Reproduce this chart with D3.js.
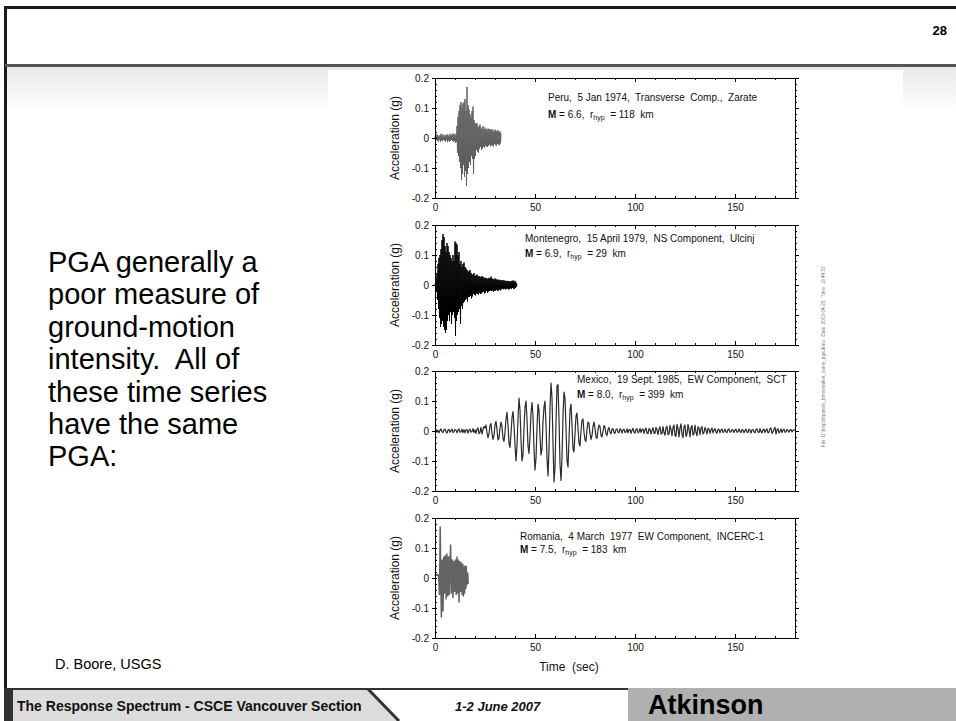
<!DOCTYPE html>
<html lang="en">
<head>
<meta charset="UTF-8" />
<title>PGA - four time series</title>
<script src="https://cdn.jsdelivr.net/npm/d3@7"></script>
<style>
  body { margin: 0; background: #fff; }
  svg { display: block; font-family: Arial, "Liberation Sans", sans-serif; }
  text { white-space: pre; }
</style>
</head>
<body>
<svg id="vis" width="956" height="721"></svg>
<script>
// ---- data ----
const quakeNames = [
  "Peru,  5 Jan 1974,  Transverse  Comp.,  Zarate",
  "Montenegro,  15 April 1979,  NS Component,  Ulcinj",
  "Mexico,  19 Sept. 1985,  EW Component,  SCT",
  "Romania,  4 March  1977  EW Component,  INCERC-1"
];
const magnitudes = ["6.6", "6.9", "8.0", "7.5"];
const hypoDistKm = ["118", "29", "399", "183"];
// sample step (sec) of each trace below
const sampleSteps = [0.25, 0.25, 0.5, 0.2];

// accelerations in milli-g, one value per sample step
const peruAcc = [
  5,-8,10,-6,12,-10,8,-12, 6,-5,10,-12,14,-8,6,-10, 12,-6,4,-8,10,-12,8,-6,
  12,-14,10,-8,6,-12,14,-10, 8,-6,12,-10,15,-12,8,-10, 14,-16,10,-12,
  40,-50,70,-60,90,-80,110,-100, 120,-140,100,-120,115,-90,120,-130,
  130,-110,90,-160,170,-120,110,-100, 95,-80,80,-90,70,-60,90,-70, 105,-120,60,-70,
  50,-60,45,-40,50,-45,35,-50, 40,-35,45,-30,35,-40,30,-35, 40,-30,28,-32,35,-25,30,-28,
  25,-30,32,-25,28,-22,30,-28, 26,-24,30,-26,22,-28,25,-20, 28,-24,22,-26,24,-20,26,-22,
  20,-24,22,-18,15
];
const montenegroAcc = [
  5,-10,15,-20, 40,-50,70,-80, 90,-110,100,-140, 120,-130,150,-120, 170,-140,160,-150,
  130,-160,110,-150, 140,-120,130,-100, 110,-120,100,-90, 90,-130,80,-100, 100,-90,80,-110,
  145,-170,140,-120, 135,-100,100,-90, 110,-80,70,-130, 80,-70,60,-80, 70,-60,75,-55,
  60,-50,55,-45, 50,-55,45,-40, 45,-40,50,-35, 40,-45,35,-38, 35,-30,40,-32,
  30,-35,32,-28,35,-30,28,-32, 30,-26,28,-30,25,-28,30,-24, 26,-22,25,-28,22,-25,24,-20,
  22,-25,20,-22,24,-20,22,-18, 28,-20,22,-18,20,-22,18,-20, 22,-18,20,-16,18,-20,16,-18,
  18,-15,16,-18,15,-14,16,-12, 15,-14,16,-12,14,-15,12,-13, 14,-12,13,-15,12,-14,13,-11,
  12,-13,14,-10,15,-12,11,-13, 14,-10,8,-6,5
];
const mexicoAcc = [
  0,5,-4,3,-6,2,7,-3,-5,4,        6,-2,-7,3,5,-4,2,6,-5,-2,
  5,3,-6,2,7,-4,-3,6,-5,4,        -6,3,5,-7,2,6,-4,-2,8,-5,
  3,-8,6,10,-9,-4,12,-10,5,15,    10,20,-5,-22,-10,18,25,-8,-28,-15,
  20,32,5,-30,-25,10,30,15,-25,-35, -5,40,62,20,-40,-55,-10,45,65,20,
  -45,-100,-50,40,110,70,-30,-100,-80,10, 80,100,40,-50,-75,-20,60,95,50,-60,
  -130,-90,10,90,70,-20,-80,-60,30,80, 100,20,-90,-150,-60,80,160,110,-40,-170,
  -120,30,150,155,40,-110,-165,-90,50,130, 110,10,-100,-120,-30,70,90,20,-60,-70,
  -10,50,60,10,-40,-50,0,35,40,-5, -30,-35,5,30,25,-10,-28,-15,15,30,
  10,-20,-25,5,20,15,-15,-20,0,18, 12,-10,-15,5,12,-3,-10,6,8,-6,
  -8,5,7,-4,-6,8,3,-7,4,6,        -5,-3,7,-6,4,5,-8,2,9,-4,
  -7,5,8,-6,-3,9,-5,4,7,-8,       3,10,-6,-9,8,5,-10,2,11,-7,
  -8,12,4,-12,6,14,-10,-8,15,-5,  -14,10,16,-12,-10,18,5,-16,12,20,
  -15,-18,22,8,-20,10,24,-12,-22,15, 20,-18,-10,22,6,-20,12,18,-14,-8,
  20,-5,-16,14,10,-12,8,15,-10,-5, 12,3,-10,9,6,-8,4,10,-6,2,
  8,-4,-7,6,5,-6,3,7,-5,-2,       6,-3,-5,4,7,-4,-3,5,2,-5,
  4,6,-4,-3,7,-2,-5,5,3,-6,       2,6,-4,-5,6,3,-7,4,5,-3,
  -6,5,7,-4,-5,8,-2,-6,4,6,       -5,3,7,-6,-4,8,10,-8,-3,6,
  12,-10,4,8,-6,-2,7,-5,3,6,      -4,-3,5,2,-4,3,5,-3,2,4,3
];
const romaniaAcc = [
  10,8,12,9,11, 10,12,8,10,5, -20,-55,30,170,60, -60,-130,-40,60,20,
  -110,-30,70,40,-50, 50,75,-20,-70,30, 80,-10,-60,40,70, -30,-55,20,75,110,
  30,-50,-20,60,-40, -65,45,55,-20,-45, 30,60,-10,-55,35, 70,-30,-50,60,20,
  -80,-20,55,35,-45, 40,50,-30,-55,30, 45,-60,-20,35,-50, 40,25,-35,38,-25,
  20,-10,15,-20
];
const traces = [peruAcc, montenegroAcc, mexicoAcc, romaniaAcc];
const traceColors = ["#5f5f5f", "#000000", "#2a2a2a", "#636363"];
const traceWidths = [1, 1, 1.2, 1.5];

const xTickValues = [0, 50, 100, 150];
const yTickValues = [-0.2, -0.1, 0, 0.1, 0.2];
const yTickLabels = ["-0.2", "-0.1", "0", "0.1", "0.2"];

const noteLines = [
  "PGA generally a", "poor measure of", "ground-motion",
  "intensity.  All of", "these time series", "have the same", "PGA:"
];

// ---- slide frame ----
const svg = d3.select("#vis");
const defs = svg.append("defs");
const band = defs.append("linearGradient").attr("id", "band")
  .attr("x1", 0).attr("y1", 0).attr("x2", 0).attr("y2", 1);
band.append("stop").attr("offset", "0%").attr("stop-color", "#e9e9e9");
band.append("stop").attr("offset", "100%").attr("stop-color", "#ffffff");

svg.append("rect").attr("width", 956).attr("height", 721).attr("fill", "#fff");
svg.append("rect").attr("x", 5).attr("y", 67).attr("width", 951).attr("height", 45).attr("fill", "url(#band)");
svg.append("rect").attr("x", 328).attr("y", 70).attr("width", 575).attr("height", 616).attr("fill", "#fff");

svg.append("rect").attr("x", 4).attr("y", 6).attr("width", 952).attr("height", 3).attr("fill", "#1a1a1a");
svg.append("rect").attr("x", 4).attr("y", 6).attr("width", 3).attr("height", 715).attr("fill", "#1a1a1a");
svg.append("rect").attr("x", 5).attr("y", 64).attr("width", 951).attr("height", 3).attr("fill", "#555");

svg.append("text").attr("x", 947).attr("y", 35).attr("text-anchor", "end")
  .attr("font-size", 13).attr("font-weight", "bold").text("28");

// left-hand note
svg.append("g").selectAll("text").data(noteLines).join("text")
  .attr("x", 48).attr("y", (d, i) => 272 + i * 32.4)
  .attr("font-size", 29).attr("fill", "#000").text(d => d);

svg.append("text").attr("x", 55).attr("y", 669).attr("font-size", 14.5).text("D. Boore, USGS");

// ---- the four panels ----
const x = d3.scaleLinear().domain([0, 180]).range([435, 795]);
const panelTops = [78, 225, 371, 518];
const plotH = 120;
const labelPos = [
  { x: 548, y1: 101, y2: 118 },
  { x: 525, y1: 242, y2: 257 },
  { x: 577, y1: 383, y2: 398 },
  { x: 520, y1: 540, y2: 553 }
];

traces.forEach((acc, p) => {
  const top = panelTops[p];
  const y = d3.scaleLinear().domain([-0.2, 0.2]).range([top + plotH, top]);
  const g = svg.append("g");
  const dt = sampleSteps[p];

  // trace
  const line = d3.line().x((d, i) => x(i * dt)).y(d => y(d / 1000));
  g.append("path").datum(acc).attr("d", line)
    .attr("fill", "none").attr("stroke", traceColors[p])
    .attr("stroke-width", traceWidths[p]).attr("stroke-linejoin", "round");

  // bottom axis: labels + inward ticks
  const minorX = d3.range(0, 181, 10);
  g.append("g").attr("transform", `translate(0,${top + plotH})`)
    .call(d3.axisBottom(x).tickValues(minorX).tickFormat("").tickSizeInner(-2).tickSizeOuter(0));
  g.append("g").attr("transform", `translate(0,${top + plotH})`)
    .call(d3.axisBottom(x).tickValues(xTickValues).tickFormat(d3.format("d"))
      .tickSizeInner(-4).tickSizeOuter(0).tickPadding(6));
  // top axis
  g.append("g").attr("transform", `translate(0,${top})`)
    .call(d3.axisTop(x).tickValues(minorX).tickFormat("").tickSizeInner(-2).tickSizeOuter(0));
  g.append("g").attr("transform", `translate(0,${top})`)
    .call(d3.axisTop(x).tickValues(xTickValues).tickFormat("").tickSizeInner(-4).tickSizeOuter(0));

  // left / right axes
  const minorY = d3.range(-10, 11).map(k => k * 0.02);
  g.append("g").attr("transform", `translate(${x(0)},0)`)
    .call(d3.axisLeft(y).tickValues(minorY).tickFormat("").tickSizeInner(-2).tickSizeOuter(0));
  g.append("g").attr("transform", `translate(${x(0)},0)`)
    .call(d3.axisLeft(y).tickValues(yTickValues).tickFormat((d, i) => yTickLabels[i])
      .tickSizeInner(3).tickSizeOuter(0).tickPadding(3));
  g.append("g").attr("transform", `translate(${x(180)},0)`)
    .call(d3.axisRight(y).tickValues(minorY).tickFormat("").tickSizeInner(2).tickSizeOuter(0));
  g.append("g").attr("transform", `translate(${x(180)},0)`)
    .call(d3.axisRight(y).tickValues(yTickValues).tickFormat("").tickSizeInner(4).tickSizeOuter(0));

  g.selectAll(".tick text").attr("font-size", 10).attr("font-family", "Arial, 'Liberation Sans', sans-serif").attr("fill", "#111");
  g.selectAll(".domain, .tick line").attr("stroke", "#000");

  g.append("text").attr("transform", `translate(399,${top + plotH / 2}) rotate(-90)`)
    .attr("text-anchor", "middle").attr("font-size", 12).attr("fill", "#111").text("Acceleration (g)");

  // event annotation
  const lp = labelPos[p];
  g.append("text").attr("x", lp.x).attr("y", lp.y1).attr("font-size", 10).attr("fill", "#111").text(quakeNames[p]);
  const t2 = g.append("text").attr("x", lp.x).attr("y", lp.y2).attr("font-size", 10).attr("fill", "#111");
  t2.append("tspan").attr("font-weight", "bold").text("M");
  t2.append("tspan").text(` = ${magnitudes[p]},  r`);
  t2.append("tspan").attr("dy", 2).attr("font-size", 7).text("hyp");
  t2.append("tspan").attr("dy", -2).text(`  = ${hypoDistKm[p]}  km`);
});

svg.append("text").attr("x", 569).attr("y", 671).attr("text-anchor", "middle")
  .attr("font-size", 12).attr("fill", "#111").text("Time  (sec)");

// tiny plot-file stamp
svg.append("text").attr("transform", "translate(825,447) rotate(-90)")
  .attr("font-size", 4.6).attr("fill", "#777")
  .text("File: D:\\bmp\\dspanels_brmemarket_same_pga.draw;  Date: 2003-04-23;  Time: 19:44:33");

// ---- footer ----
svg.append("rect").attr("x", 4).attr("y", 688).attr("width", 9).attr("height", 33).attr("fill", "#333");
svg.append("polygon").attr("points", "13,690 370,690 400,721 13,721").attr("fill", "#dcdcdc");
svg.append("rect").attr("x", 628).attr("y", 688).attr("width", 328).attr("height", 33).attr("fill", "#b0b0b0");
svg.append("line").attr("x1", 13).attr("x2", 628).attr("y1", 689).attr("y2", 689).attr("stroke", "#333").attr("stroke-width", 2);
svg.append("line").attr("x1", 368).attr("y1", 689).attr("x2", 399).attr("y2", 721).attr("stroke", "#333").attr("stroke-width", 3);

svg.append("text").attr("x", 17).attr("y", 711).attr("font-size", 14).attr("font-weight", "bold")
  .attr("fill", "#111").text("The Response Spectrum - CSCE Vancouver Section");
svg.append("text").attr("x", 455).attr("y", 711).attr("font-size", 13).attr("font-weight", "bold")
  .attr("font-style", "italic").attr("fill", "#111").text("1-2 June 2007");
svg.append("text").attr("x", 648).attr("y", 714).attr("font-size", 27).attr("font-weight", "bold")
  .attr("fill", "#000").text("Atkinson");
</script>
</body>
</html>
